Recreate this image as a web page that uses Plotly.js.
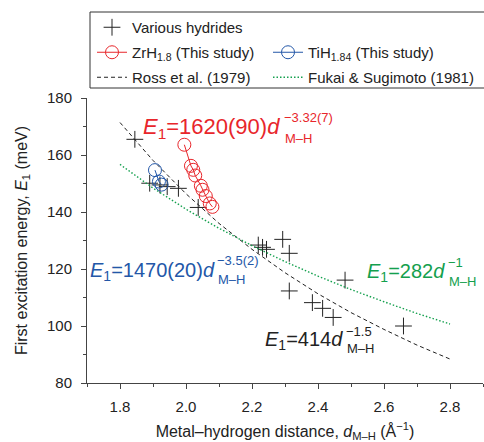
<!DOCTYPE html>
<html>
<head>
<meta charset="utf-8">
<script src="https://cdn.plot.ly/plotly-3.0.1.min.js"></script>
<style>html,body{margin:0;padding:0;background:#fff;}#chart{width:484px;height:442px;}</style>
</head>
<body>
<div id="chart"></div>
<script>
// Various hydrides (black crosses)
const hydD = [1.845, 1.89, 1.921, 1.943, 1.977, 2.037, 2.219, 2.232, 2.244, 2.293, 2.313, 2.313, 2.383, 2.414, 2.446, 2.482, 2.659];
const hydE = [165.5, 150.1, 149.5, 148.9, 148.3, 141.6, 128.4, 127.6, 126.9, 130.4, 125.5, 112.3, 108.2, 106.2, 103.0, 116.1, 100.0];
// ZrH1.8 (this study)
const zrD = [1.995, 2.015, 2.022, 2.028, 2.045, 2.05, 2.06, 2.072, 2.08];
const zrE = [163.6, 156.2, 154.8, 152.8, 149.2, 147.8, 145.6, 143.0, 141.8];
// TiH1.84 (this study)
const tiD = [1.906, 1.918, 1.926];
const tiE = [154.7, 150.7, 149.6];
// Ross et al. (1979): E1 = 414 d^-1.5
const rossD = [1.8, 1.9, 2.0, 2.1, 2.2, 2.3, 2.4, 2.5, 2.6, 2.7, 2.8];
const rossE = [171.4, 158.1, 146.4, 136.0, 126.9, 118.7, 111.3, 104.7, 98.8, 93.3, 88.4];
// Fukai & Sugimoto (1981): E1 = 282 d^-1
const fukD = [1.8, 1.9, 2.0, 2.1, 2.2, 2.3, 2.4, 2.5, 2.6, 2.7, 2.8];
const fukE = [156.7, 148.4, 141.0, 134.3, 128.2, 122.6, 117.5, 112.8, 108.5, 104.4, 100.7];

const xTickVals = [1.8, 2.0, 2.2, 2.4, 2.6, 2.8];
const xTickText = ['1.8', '2.0', '2.2', '2.4', '2.6', '2.8'];
const yTickVals = [80, 100, 120, 140, 160, 180];

const RED = '#e8262b', BLUE = '#2357a8', GREEN = '#14a04e', BLACK = '#222222';
const FONT = 'Liberation Sans, Arial, Helvetica, sans-serif';

const W = 484, H = 442, L = 87, R = 1, T = 98, B = 59;
const pw = W - L - R, ph = H - T - B;
const px = v => (v - L) / pw;
const py = v => (H - B - v) / ph;

const traces = [
  {x: hydD, y: hydE, type: 'scatter', mode: 'markers', name: 'Various hydrides', legend: 'legend',
   marker: {symbol: 'cross-thin-open', size: 12, color: BLACK, line: {color: BLACK, width: 1}}},
  {x: rossD, y: rossE, type: 'scatter', mode: 'lines', name: 'Ross et al. (1979)', legend: 'legend4',
   line: {color: BLACK, width: 1, dash: '4px,3px'}},
  {x: fukD, y: fukE, type: 'scatter', mode: 'lines', name: 'Fukai &amp; Sugimoto (1981)', legend: 'legend5',
   line: {color: GREEN, width: 1.4, dash: '1.5px,2px'}},
  {x: zrD, y: zrE, type: 'scatter', mode: 'lines+markers', name: 'ZrH<sub>1.8</sub> (This study)', legend: 'legend2',
   line: {color: RED, width: 1},
   marker: {symbol: 'circle-open', size: 13, color: RED, line: {color: RED, width: 1}}},
  {x: tiD, y: tiE, type: 'scatter', mode: 'lines+markers', name: 'TiH<sub>1.84</sub> (This study)', legend: 'legend3',
   line: {color: BLUE, width: 1},
   marker: {symbol: 'circle-open', size: 13, color: BLUE, line: {color: BLUE, width: 1}}}
];

function formula(main, sup, sub, color, x, y, size, dxs, supdy, subdy) {
  return [
    {text: main, xref: 'paper', yref: 'paper', x: px(x), y: py(y), xanchor: 'left', yanchor: 'middle',
     showarrow: false, font: {family: FONT, size: size, color: color}},
    {text: sup, xref: 'paper', yref: 'paper', x: px(x + dxs), y: py(y + supdy), xanchor: 'left', yanchor: 'middle',
     showarrow: false, font: {family: FONT, size: 13, color: color}},
    {text: sub, xref: 'paper', yref: 'paper', x: px(x + dxs + 1), y: py(y + subdy), xanchor: 'left', yanchor: 'middle',
     showarrow: false, font: {family: FONT, size: 13, color: color}}
  ];
}

const annotations = [].concat(
  formula('<i>E</i><sub>1</sub>=1620(90)<i>d</i>', '−3.32(7)', 'M–H', RED, 141, 128, 22, 141, -11, 10),
  formula('<i>E</i><sub>1</sub>=1470(20)<i>d</i>', '−3.5(2)', 'M–H', BLUE, 88, 271, 20, 127, -11, 8),
  formula('<i>E</i><sub>1</sub>=282<i>d</i>', '−1', 'M–H', GREEN, 365, 272, 20, 81, -10, 9),
  formula('<i>E</i><sub>1</sub>=414<i>d</i>', '−1.5', 'M–H', BLACK, 263, 340, 20, 81, -9, 8)
);

const legendBase = {xanchor: 'left', yanchor: 'top', orientation: 'v', bgcolor: 'rgba(255,255,255,0)',
  borderwidth: 0, font: {family: FONT, size: 15, color: BLACK}, itemwidth: 30, tracegroupgap: 0};
const COL1 = 92, COL2 = 268;

const layout = {
  width: W, height: H,
  margin: {l: L, r: R, t: T, b: B, pad: 0},
  paper_bgcolor: '#ffffff', plot_bgcolor: '#ffffff',
  font: {family: FONT, size: 15, color: BLACK},
  showlegend: true,
  legend: Object.assign({}, legendBase, {x: px(COL1), y: py(11)}),
  legend2: Object.assign({}, legendBase, {x: px(COL1), y: py(36)}),
  legend3: Object.assign({}, legendBase, {x: px(COL2), y: py(36)}),
  legend4: Object.assign({}, legendBase, {x: px(COL1), y: py(61)}),
  legend5: Object.assign({}, legendBase, {x: px(COL2), y: py(61)}),
  xaxis: {
    range: [1.7, 2.9], showgrid: false, zeroline: false,
    showline: true, linecolor: '#444', linewidth: 1,
    ticks: 'outside', ticklen: 5, tickwidth: 1, tickcolor: '#444',
    tickvals: xTickVals, ticktext: xTickText,
    tickfont: {family: FONT, size: 15, color: BLACK},
    ticklabelstandoff: 5,
    minor: {dtick: 0.1, tick0: 1.7, ticks: 'outside', ticklen: 3, tickcolor: '#444', showgrid: false},
    title: {text: 'Metal–hydrogen distance, <i>d</i><sub>M–H</sub> (Å<sup>−1</sup>)',
            font: {family: FONT, size: 16, color: BLACK}, standoff: 11},
    automargin: false, fixedrange: true
  },
  yaxis: {
    range: [80, 180], showgrid: false, zeroline: false,
    showline: true, linecolor: '#444', linewidth: 1,
    ticks: 'outside', ticklen: 5, tickwidth: 1, tickcolor: '#444',
    tickvals: yTickVals,
    tickfont: {family: FONT, size: 15, color: BLACK},
    ticklabelstandoff: 6,
    minor: {dtick: 10, tick0: 80, ticks: 'outside', ticklen: 3, tickcolor: '#444', showgrid: false},
    title: {text: 'First excitation energy, <i>E</i><sub>1</sub> (meV)',
            font: {family: FONT, size: 16, color: BLACK}, standoff: 15},
    automargin: false, fixedrange: true
  },
  shapes: [
    {type: 'rect', xref: 'paper', yref: 'paper', x0: px(90), x1: px(500), y0: py(88), y1: py(12),
     line: {color: '#333', width: 1}, fillcolor: 'rgba(0,0,0,0)', layer: 'above'}
  ],
  annotations: annotations
};

Plotly.newPlot('chart', traces, layout, {displayModeBar: false, staticPlot: true});
</script>
</body>
</html>
